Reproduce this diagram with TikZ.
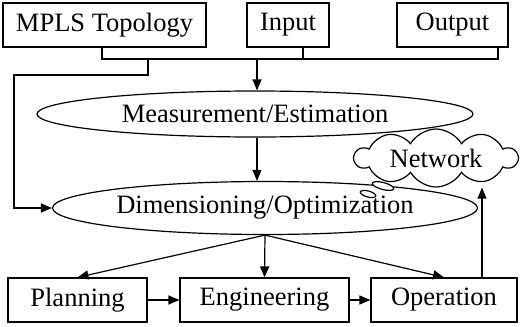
\documentclass[tikz,border=0pt]{standalone}
\usepackage{fontspec}
\setmainfont{Liberation Serif}
\usetikzlibrary{shapes.geometric,shapes.symbols,arrows.meta}

\begin{document}
\begin{tikzpicture}[x=1pt, y=-1pt, line width=1.2pt,
  boxnode/.style={rectangle, draw=black, minimum height=44pt, inner sep=0pt, font=\fontsize{26.5}{29}\selectfont},
  ovalnode/.style={ellipse, draw=black, inner sep=0pt, font=\fontsize{26.5}{29}\selectfont},
  cloudnode/.style={cloud, draw=black, fill=white, cloud puffs=10, cloud puff arc=120, aspect=5.5, inner xsep=12pt, inner ysep=-7pt, font=\fontsize{26.5}{29}\selectfont},
  arr/.style={-{Triangle[length=11pt,width=9pt]}}]
\useasboundingbox (0,0) rectangle (523,327);
% top row
\node[boxnode, minimum width=203pt] at (104.5,25) (mpls) {MPLS Topology};
\node[boxnode, minimum width=82pt] at (288,25) (input) {Input};
\node[boxnode, minimum width=111pt] at (452.5,25) (output) {Output};
% ellipses
\node[ovalnode, minimum width=436pt, minimum height=46pt] at (255,114) (meas) {Measurement/Estimation};
\node[ovalnode, minimum width=425pt, minimum height=53pt] at (265,208) (dim) {Dimensioning/Optimization};
% bottom row
\node[boxnode, minimum width=139pt] at (77.5,300) (plan) {Planning};
\node[boxnode, minimum width=169pt] at (264.5,300) (eng) {Engineering};
\node[boxnode, minimum width=146pt] at (444,300) (oper) {Operation};
% network cloud
\draw[fill=white, rotate around={-15:(383,186)}] (383,186) ellipse (11 and 3.5);
\draw[fill=white, rotate around={-15:(368,194)}] (368,194) ellipse (8 and 3);
\node[cloudnode] at (436,158) (net) {Network};
% input bracket
\coordinate (jl) at (102,59);
\coordinate (jm) at (303,59);
\coordinate (jr) at (498,59);
\coordinate (br) at (148,59);
\coordinate (lft) at (14,75);
\coordinate (mid) at (257,0);
\coordinate (up) at (482,0);
\draw (mpls.south -| jl) -- (jl) -- (jr) -- (output.south -| jr);
\draw (input.south -| jm) -- (jm);
\draw[arr] (jl -| mid) -- (meas.north -| mid);
\draw[arr] (br) |- (lft) |- (dim.west);
\draw[arr] (meas.south -| mid) -- (dim.north -| mid);
\draw[arr] (dim.south) -- (plan.north);
\draw[arr] (dim.south) -- (eng.north);
\draw[arr] (dim.south) -- (oper.north);
\draw[arr] (plan) -- (eng);
\draw[arr] (eng) -- (oper);
\draw[arr] (oper.north -| up) -- (net.south -| up);
\end{tikzpicture}
\end{document}
